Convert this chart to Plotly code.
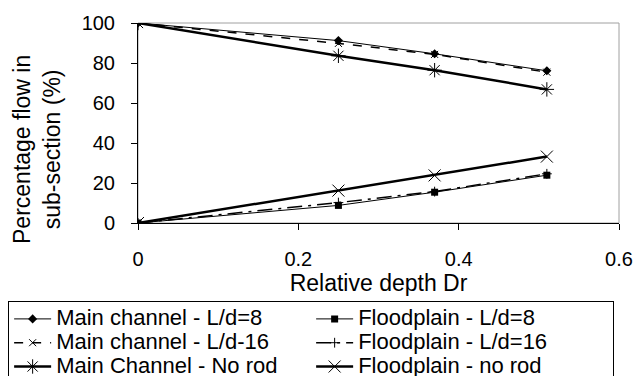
import plotly.graph_objects as go

dr = [0, 0.25, 0.37, 0.51]
main_ld8 = [100, 91.2, 84.6, 76.1]
main_ld16 = [100, 89.8, 84.3, 75.4]
main_norod = [100, 83.6, 76.4, 66.8]
flood_ld8 = [0, 8.8, 15.4, 23.9]
flood_ld16 = [0, 10.2, 15.7, 24.6]
flood_norod = [0, 16.2, 23.8, 33.2]
x_ticks = [0, 0.2, 0.4, 0.6]
x_tick_text = ["0", "0.2", "0.4", "0.6"]
y_ticks = [0, 20, 40, 60, 80, 100]

series = [
    ("Main channel - L/d=8", main_ld8, dict(width=1, dash="solid"), dict(symbol="diamond", size=7)),
    ("Floodplain - L/d=8", flood_ld8, dict(width=1, dash="solid"), dict(symbol="square", size=7)),
    ("Main channel - L/d-16", main_ld16, dict(width=1.5, dash="dash"), dict(symbol="x-thin-open", size=7, line=dict(width=1, color="black"))),
    ("Floodplain - L/d=16", flood_ld16, dict(width=1.5, dash="longdashdot"), dict(symbol="cross-thin-open", size=7, line=dict(width=1, color="black"))),
    ("Main Channel - No rod", main_norod, dict(width=2.5, dash="solid"), dict(symbol="asterisk-open", size=12, line=dict(width=1, color="black"))),
    ("Floodplain - no rod", flood_norod, dict(width=2.5, dash="solid"), dict(symbol="x-thin-open", size=12, line=dict(width=1, color="black"))),
]

fig = go.Figure()
for name, ys, ln, mk in series:
    ln = dict(ln, color="black")
    mk = dict(mk, color="black")
    fig.add_trace(go.Scatter(x=dr, y=ys, name='<span style="font-size:22px">' + name + '</span>',
                             mode="lines+markers", line=ln, marker=mk))

FAM = "Liberation Sans, Arial"
tickf = dict(family=FAM, size=20, color="black")
titlef = dict(family=FAM, size=23, color="black")
fig.update_layout(
    width=637, height=376,
    margin=dict(l=138, r=18, t=23, b=153, autoexpand=False),
    paper_bgcolor="white", plot_bgcolor="white",
    font=tickf,
    shapes=[dict(type="rect", xref="paper", yref="paper", x0=0, x1=1, y0=0, y1=1,
                 line=dict(color="#a0a0a0", width=1), layer="below")],
    xaxis=dict(range=[0, 0.6], tickvals=x_ticks, ticktext=x_tick_text,
               showgrid=False, zeroline=False, showline=True, linecolor="black", linewidth=1,
               ticks="outside", ticklen=6, tickcolor="black", ticklabelstandoff=12,
               title=dict(text="Relative depth Dr", standoff=0, font=titlef), tickfont=tickf),
    yaxis=dict(range=[0, 100], tickvals=y_ticks,
               showgrid=False, zeroline=False, showline=True, linecolor="black", linewidth=1,
               ticks="outside", ticklen=6, tickcolor="black", ticklabelstandoff=12,
               tickfont=tickf),
    annotations=[dict(text="Percentage flow in<br>sub-section (%)", textangle=-90,
                      xref="paper", yref="paper", x=-0.21, y=0.37, xanchor="center", yanchor="middle",
                      showarrow=False, font=titlef)],
    legend=dict(orientation="h", x=-0.27, y=-0.39, xanchor="left", yanchor="top",
                entrywidth=250, entrywidthmode="pixels", bordercolor="black", borderwidth=1,
                font=dict(family=FAM, size=16, color="black"),
                tracegroupgap=0, itemwidth=37),
    showlegend=True,
)
fig.write_html("out.html")
